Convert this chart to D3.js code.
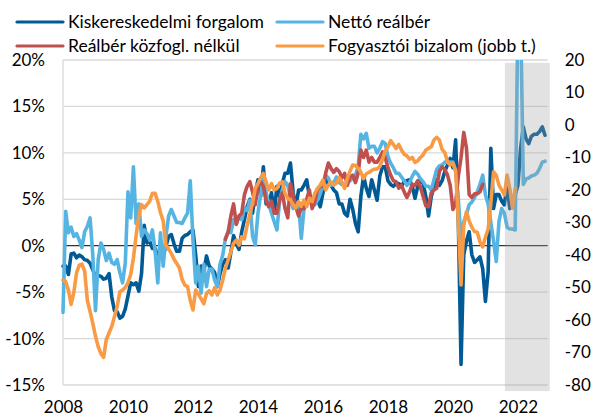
<!DOCTYPE html>
<html><head><meta charset="utf-8">
<script src="https://cdn.jsdelivr.net/npm/d3@7/dist/d3.min.js"></script>
<style>
body{margin:0;background:#fff}
svg{display:block}
text{font-family:Lato, "Open Sans", sans-serif; font-size:17px; fill:#000}
</style>
</head><body>
<svg id="chart" width="593" height="417"></svg>
<script>
// ---------- DATA ----------
const firstYear = 2008;               // monthly data start: Jan 2008
const yearTicks = [2008, 2010, 2012, 2014, 2016, 2018, 2020, 2022];
const leftTicks = [-15, -10, -5, 0, 5, 10, 15, 20];
const rightTicks = [-80, -70, -60, -50, -40, -30, -20, -10, 0, 10, 20];

// Kiskereskedelmi forgalom (%), Jan 2008 - Nov 2022
const kisker = [
  -2.2, -2.2, -3.1, -0.9, -0.8, -1.3, -1.0, -1.2, -1.5, -1.6, -1.9, -2.6,
  -3.3, -3.2, -3.3, -3.6, -3.5, -3.0, -5.5, -7.0, -7.1, -7.8, -7.6, -6.8,
  -5.4, -4.0, -4.2, -4.0, -4.9, -3.0, 2.2, 0.3, 0.5, -0.3, -0.3, -1.9,
  0.5, -1.0, -0.1, 1.0, 1.2, 0.2, -0.6, -0.6, 0.8, 1.1, 1.2, 1.5,
  1.7, -1.0, -4.4, -2.2, -2.8, -1.1, -2.2, -2.5, -2.9, -4.4, -3.0, -2.0,
  -1.5, -2.4, -0.7, 1.1, 0.2, -0.4, 1.5, 2.8, 4.2, 5.0, 3.5, 5.7,
  7.1, 5.3, 8.5, 4.5, 4.5, 5.7, 3.5, 6.4, 5.3, 6.7, 7.8, 7.8,
  8.9, 5.7, 4.2, 6.0, 6.0, 6.5, 7.1, 5.3, 4.9, 5.0, 4.9, 4.2,
  5.7, 7.1, 6.8, 6.5, 6.0, 5.7, 4.5, 4.5, 3.5, 3.2, 5.0, 3.9,
  2.4, 1.5, 5.3, 7.5, 6.2, 5.3, 7.1, 6.0, 4.9, 7.5, 8.5, 8.5,
  7.0, 6.6, 6.4, 6.7, 6.7, 6.4, 6.9, 7.0, 7.1, 6.4, 5.1, 6.4,
  7.1, 6.7, 5.3, 3.2, 5.3, 6.4, 7.1, 6.5, 7.0, 8.0, 8.7, 9.4,
  8.4, 11.4, 2.6, -12.8, -1.0, 0.5, 1.5, -1.0, -1.8, -1.5, -1.2, -2.5,
  -6.0, -2.8, 10.5, 4.0, 5.5, 5.5, 4.8, 4.4, 6.6, 4.0, 5.0, 5.5,
  6.5, 10.5, 12.8, 11.5, 11.0, 11.8, 12.0, 12.0, 12.3, 12.8, 11.9
];

// Nettó reálbér (%), Jan 2008 - Nov 2022
const netto = [
  -7.2, 3.7, 1.4, 2.0, 1.0, 1.3, 0.6, -0.2, 1.5, 2.1, 3.0, -1.0,
  -7.0, -1.5, 0.3, -0.4, -1.6, -0.8, -1.8, -2.0, -1.5, -2.9, -4.0, -1.9,
  5.8, 3.0, 8.5, 2.4, 4.5, 1.0, 1.7, 1.3, 0.6, 1.7, -0.5, -4.0,
  1.4, -2.2, 1.0, 3.2, 3.9, 3.2, 2.5, 2.5, 2.4, 3.0, 3.5, 7.0,
  0.6, -4.0, -2.2, -5.1, -2.0, -4.4, -2.5, -2.5, -3.7, -4.4, -2.0, -1.0,
  0.8, 1.5, 1.4, 2.8, 2.4, 3.2, 2.8, 4.0, 3.8, 4.9, 1.0, 0.1,
  3.5, 5.5, 7.5, 5.7, 4.5, 3.5, 2.6, 1.7, 4.8, 6.0, 6.9, 6.5,
  5.2, 4.0, 4.6, 4.5, 0.8, 4.0, 4.8, 5.0, 4.4, 4.4, 4.9, 5.6,
  6.5, 7.6, 7.3, 6.5, 6.8, 7.4, 6.8, 6.6, 6.4, 6.8, 7.0, 7.3,
  7.6, 8.5, 12.0, 11.5, 12.1, 10.5, 10.7, 10.7, 10.0, 10.5, 11.2, 11.0,
  9.6, 8.9, 8.4, 7.8, 7.8, 7.4, 7.0, 6.5, 6.8, 7.5, 8.0, 7.7,
  7.2, 6.9, 6.4, 6.4, 6.0, 7.1, 8.2, 8.6, 8.7, 9.0, 9.0, 9.0,
  9.0, 8.0, 5.0, 0.5, 2.6, 3.4, 4.4, 4.7, 5.2, 5.8, 6.6, 7.6,
  5.5, 4.5, 2.5, 0.5, -1.7, 2.6, 4.0, 3.5, 2.0, 1.8, 1.8, 1.7,
  25.0, 25.0, 6.6, 7.2, 7.3, 7.5, 7.6, 7.8, 8.3, 9.0, 9.1
];

// Reálbér közfogl. nélkül (%), Jan 2013 - Dec 2020
const realberStartYear = 2013;
const realber = [
  0.7, 1.5, 3.2, 4.5, 2.3, 3.2, 3.5, 5.5, 6.4, 6.9, 5.8, 4.4,
  6.4, 6.9, 6.4, 4.9, 4.2, 4.8, 3.5, 3.5, 4.9, 5.7, 4.0, 3.0,
  6.7, 5.4, 4.2, 3.2, 4.1, 4.0, 5.0, 6.0, 4.0, 4.8, 6.0, 6.4,
  6.4, 7.8, 8.9, 8.3, 7.9, 8.3, 8.0, 7.3, 7.8, 6.5, 7.4, 7.6,
  6.8, 7.8, 10.3, 9.5, 10.3, 9.0, 9.5, 9.0, 9.0, 9.5, 10.1, 9.5,
  8.4, 7.6, 7.0, 6.9, 6.2, 6.5, 5.8, 5.2, 5.8, 6.6, 6.5, 7.0,
  6.3, 5.3, 4.3, 4.2, 5.7, 6.0, 6.2, 8.0, 8.5, 8.2, 7.6, 6.5,
  3.9, 4.5, 7.5, 9.5, 12.2, 10.5, 5.5, 5.2, 5.6, 5.6, 5.8, 6.6
];

// Fogyasztói bizalom (jobb tengely), Jan 2008 - Dec 2021
const bizalom = [
  -47.7, -48.2, -50.8, -55.2, -51.5, -45.5, -43.1, -42.8, -45.0, -54.0, -57.4, -61.0,
  -65.0, -68.2, -70.3, -71.5, -66.0, -64.0, -62.0, -59.0, -55.9, -51.3, -50.8, -50.0,
  -48.5, -46.0, -41.0, -34.0, -28.0, -24.5, -25.5, -24.5, -23.5, -21.0, -21.0, -23.5,
  -27.0, -29.5, -37.0, -38.2, -39.5, -41.3, -42.6, -44.0, -47.5, -49.3, -49.7, -54.0,
  -56.9, -50.8, -52.0, -53.5, -55.0, -51.8, -51.0, -52.3, -50.0, -52.3, -50.8, -47.7,
  -44.0, -41.5, -39.0, -36.4, -35.4, -37.0, -34.4, -35.0, -31.0, -27.5, -24.1, -19.5,
  -18.0, -16.2, -14.9, -17.5, -20.0, -18.0, -20.0, -19.5, -17.9, -17.5, -21.0, -22.5,
  -23.1, -24.5, -25.5, -23.6, -25.0, -23.1, -25.1, -22.5, -23.6, -21.0, -19.5, -18.5,
  -16.9, -20.0, -18.5, -17.5, -18.5, -17.9, -16.2, -17.5, -19.5, -16.5, -14.2, -12.3,
  -12.5, -13.3, -14.5, -16.5, -15.0, -14.6, -14.0, -13.6, -13.5, -12.8, -10.5, -8.0,
  -6.7, -4.8, -6.0, -7.2, -6.0, -7.7, -9.0, -9.5, -10.5, -10.0, -11.5, -11.0,
  -10.0, -9.2, -7.7, -7.2, -6.7, -4.6, -3.8, -4.6, -7.5, -8.5, -11.3, -12.3,
  -11.8, -14.0, -30.0, -49.2, -31.0, -26.7, -29.5, -31.5, -32.8, -33.0, -36.0, -37.5,
  -34.5, -32.0, -24.0, -14.4, -15.5, -18.5, -20.0, -21.5, -15.4, -19.5, -25.6, -19.5
];

// Shaded (forecast) period, decimal years, and its vertical extent on the left scale
const shadeYears = [2021.6, 2022.98];
const shadeRange = [-15.65, 19.7];

const seriesNames = ["Kiskereskedelmi forgalom", "Nettó reálbér", "Reálbér közfogl. nélkül", "Fogyasztói bizalom (jobb t.)"];
const seriesColors = ["#005a96", "#55b4e2", "#c0504d", "#f99b45"];

// ---------- CHART ----------
const svg = d3.select("#chart");
const L = 63, R = 547.7, T = 60, B = 385;
const FONT = "Lato, 'Open Sans', sans-serif";

const x = d3.scaleLinear().domain([0, 179]).range([L, R]);          // months since Jan 2008
const yL = d3.scaleLinear().domain([-15, 20]).range([B, T]);
const yR = d3.scaleLinear().domain([-80, 20]).range([B, T]);

// gridlines
svg.append("g").selectAll("line").data(leftTicks.filter(d => d !== 0)).join("line")
  .attr("x1", L).attr("x2", R).attr("y1", d => yL(d)).attr("y2", d => yL(d))
  .attr("stroke", "#d9d9d9").attr("stroke-width", 1.3);
// left axis line
svg.append("line").attr("x1", L).attr("x2", L).attr("y1", T).attr("y2", B)
  .attr("stroke", "#d9d9d9").attr("stroke-width", 1.3);
// zero line
svg.append("line").attr("x1", L).attr("x2", R).attr("y1", yL(0)).attr("y2", yL(0))
  .attr("stroke", "#000").attr("stroke-width", 1);

// axes labels
const axL = svg.append("g").attr("transform", `translate(${L},0)`)
  .call(d3.axisLeft(yL).tickValues(leftTicks).tickSize(0).tickPadding(18).tickFormat(d => d + "%"));
const axR = svg.append("g").attr("transform", `translate(${R},0)`)
  .call(d3.axisRight(yR).tickValues(rightTicks).tickSize(0).tickPadding(17).tickFormat(d => d));
const axB = svg.append("g").attr("transform", `translate(0,${B})`)
  .call(d3.axisBottom(x).tickValues(yearTicks.map(yy => (yy - firstYear) * 12)).tickSize(0).tickPadding(15.5)
    .tickFormat(d => firstYear + d / 12));
[axL, axR, axB].forEach(a => {
  a.select(".domain").remove();
  a.selectAll("text").style("font-family", FONT).style("font-size", "17px").attr("fill", "#000");
});
axR.selectAll("text").text(d => (d < 0 ? "-" + Math.abs(d) : d));

// clip
svg.append("defs").append("clipPath").attr("id", "plotclip")
  .append("rect").attr("x", 0).attr("y", T).attr("width", 593).attr("height", B - T + 10);

const g = svg.append("g").attr("clip-path", "url(#plotclip)");
const mkLine = (scale, start) => d3.line()
  .defined(d => d != null)
  .x((d, i) => x(start + i))
  .y(d => scale(d));

const series = [
  { data: kisker, start: 0, scale: yL, color: seriesColors[0] },
  { data: netto, start: 0, scale: yL, color: seriesColors[1] },
  { data: realber, start: (realberStartYear - firstYear) * 12, scale: yL, color: seriesColors[2] },
  { data: bizalom, start: 0, scale: yR, color: seriesColors[3] }
];
series.forEach(s => {
  g.append("path").datum(s.data)
    .attr("d", mkLine(s.scale, s.start))
    .attr("fill", "none").attr("stroke", s.color).attr("stroke-width", 3.6)
    .attr("stroke-linejoin", "round").attr("stroke-linecap", "round");
});

// shaded period
svg.append("rect")
  .attr("x", x((shadeYears[0] - firstYear) * 12))
  .attr("width", x((shadeYears[1] - firstYear) * 12) - x((shadeYears[0] - firstYear) * 12))
  .attr("y", yL(shadeRange[1]))
  .attr("height", yL(shadeRange[0]) - yL(shadeRange[1]))
  .attr("fill", "#9e9e9e").attr("fill-opacity", 0.3);

// legend
const legendPos = [[17, 22], [277, 22], [17, 46], [277, 46]];
const lg = svg.append("g").selectAll("g").data(seriesNames).join("g")
  .attr("transform", (d, i) => `translate(${legendPos[i][0]},${legendPos[i][1]})`);
lg.append("line").attr("x1", 0).attr("x2", 46).attr("y1", 0).attr("y2", 0)
  .attr("stroke", (d, i) => seriesColors[i]).attr("stroke-width", 3.2).attr("stroke-linecap", "round");
lg.append("text").attr("x", 51).attr("y", 6).style("font-size", "17.5px").text(d => d);
</script>
</body></html>
